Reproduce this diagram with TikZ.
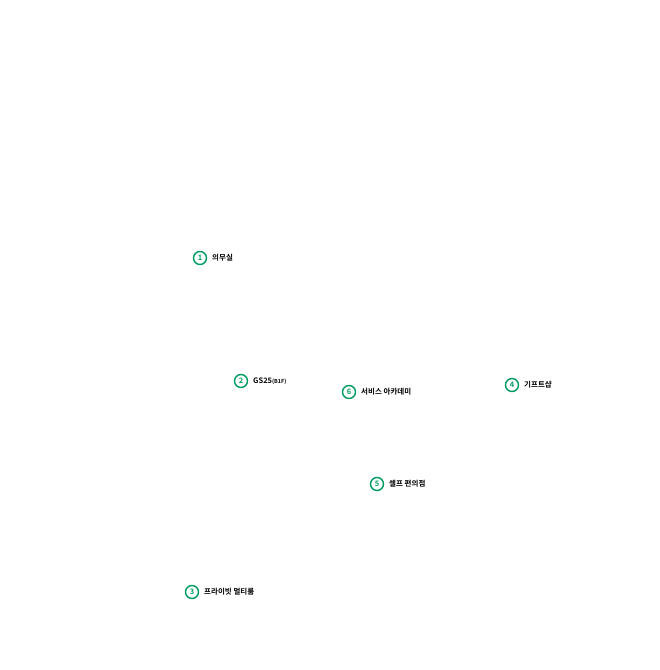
\documentclass[tikz,border=0pt]{standalone}
\usepackage{fontspec}
\newfontfamily\kr{Noto Sans CJK KR}[BoldFont={* Bold}]
\definecolor{mkgreen}{RGB}{0,155,95}
\begin{document}
\begin{tikzpicture}[x=1pt,y=-1pt,
  num/.style={circle,draw=mkgreen,line width=1.4pt,text=mkgreen,minimum size=13pt,inner sep=0pt,font=\kr\bfseries\fontsize{7.5}{8}\selectfont},
  lbl/.style={anchor=west,inner sep=0pt,font=\kr\bfseries\fontsize{7.5}{8}\selectfont}]
\useasboundingbox (0,0) rectangle (660,670);
\node[num] (n1) at (200,258) {1};
\node[lbl] (t1) at (212,258) {의무실};
\node[num] (n2) at (241,381) {2};
\node[lbl] (t2) at (253,381) {GS25{\fontsize{5.5}{6}\selectfont(B1F)}};
\node[num] (n3) at (192,592) {3};
\node[lbl] (t3) at (204,592) {프라이빗 멀티룸};
\node[num] (n4) at (512,385) {4};
\node[lbl] (t4) at (524,385) {기프트샵};
\node[num] (n5) at (377,484) {5};
\node[lbl] (t5) at (389,484) {셀프 편의점};
\node[num] (n6) at (349,392) {6};
\node[lbl] (t6) at (361,392) {서비스 아카데미};
\end{tikzpicture}
\end{document}
